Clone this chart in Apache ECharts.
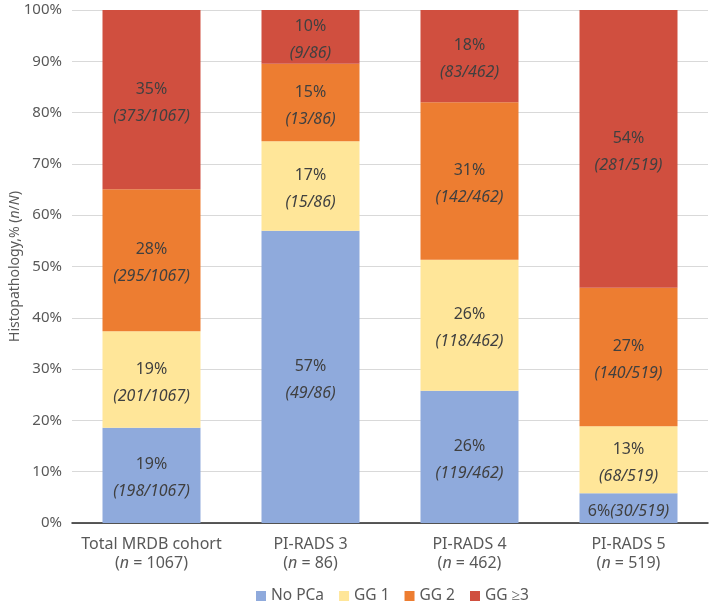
<!DOCTYPE html>
<html>
<head>
<meta charset="utf-8">
<script src="https://cdn.jsdelivr.net/npm/echarts@6/dist/echarts.min.js"></script>
<style>html,body{margin:0;padding:0;background:#fff}#c{width:709px;height:611px}</style>
</head>
<body>
<div id="c"></div>
<script>
const groupNames = ['Total MRDB cohort', 'PI-RADS 3', 'PI-RADS 4', 'PI-RADS 5'];
const groupN = [1067, 86, 462, 519];
const seriesNames = ['No PCa', 'GG 1', 'GG 2', 'GG \u22653'];
const noPCa = [198, 49, 119, 30];
const gg1 = [201, 15, 118, 68];
const gg2 = [295, 13, 142, 140];
const gg3 = [373, 9, 83, 281];
const yTicks = [0, 10, 20, 30, 40, 50, 60, 70, 80, 90, 100];

const colors = ['#8FAADC', '#FFE699', '#ED7D31', '#D04F3F'];
const FONT = 'Noto Sans';
const counts = [noPCa, gg1, gg2, gg3];

const chart = echarts.init(document.getElementById('c'));
const series = counts.map((arr, si) => ({
  name: seriesNames[si],
  type: 'bar',
  stack: 'all',
  barWidth: 98,
  itemStyle: { color: colors[si] },
  data: arr.map((v, i) => ({ value: v / groupN[i] * 100, count: v })),
  label: {
    show: true,
    position: 'inside',
    offset: [0, 3],
    fontFamily: FONT,
    color: '#404040',
    formatter: (p) => {
      const n = p.data.count, N = groupN[p.dataIndex];
      const pct = Math.round(n / N * 100) + '%';
      if (p.value < 8) return '{p|' + pct + '}{f|(' + n + '/' + N + ')}';
      return '{p|' + pct + '}\n{f|(' + n + '/' + N + ')}';
    },
    rich: {
      p: { fontFamily: FONT, fontSize: 16, color: '#404040', lineHeight: 27 },
      f: { fontFamily: FONT, fontSize: 16, color: '#404040', fontStyle: 'italic', lineHeight: 27 }
    }
  }
}));

chart.setOption({
  animation: false,
  color: colors,
  grid: { left: 72, right: 1, top: 10, bottom: 88, containLabel: false, outerBoundsMode: 'none' },
  legend: {
    left: 251, bottom: 2,
    itemWidth: 10, itemHeight: 10, itemGap: 15,
    icon: 'rect',
    textStyle: { fontFamily: FONT, fontSize: 15.5, color: '#595959' },
    data: seriesNames
  },
  xAxis: {
    type: 'category',
    data: groupNames.map((g, i) => g + '\n({i|n} = ' + groupN[i] + ')'),
    axisLine: { lineStyle: { color: '#262626', width: 1.5 } },
    axisTick: { show: false },
    axisLabel: {
      interval: 0,
      fontFamily: FONT, fontSize: 16, color: '#595959', lineHeight: 19, margin: 12,
      rich: { i: { fontFamily: FONT, fontSize: 16, color: '#595959', fontStyle: 'italic' } }
    }
  },
  yAxis: {
    type: 'value', min: 0, max: 100, interval: 10,
    name: 'Histopathology,% ({i|n}/{i|N})',
    nameLocation: 'middle', nameRotate: 90, nameGap: 50,
    nameMoveOverlap: false,
    nameTextStyle: {
      fontFamily: FONT, fontSize: 14, color: '#595959',
      rich: { i: { fontFamily: FONT, fontSize: 14, color: '#595959', fontStyle: 'italic' } }
    },
    axisLine: { show: false },
    axisTick: { show: false },
    splitLine: { lineStyle: { color: '#D9D9D9', width: 1 } },
    axisLabel: {
      fontFamily: FONT, fontSize: 15, color: '#595959', margin: 10,
      formatter: (v) => yTicks.includes(v) ? v + '%' : ''
    }
  },
  series: series
});
</script>
</body>
</html>
